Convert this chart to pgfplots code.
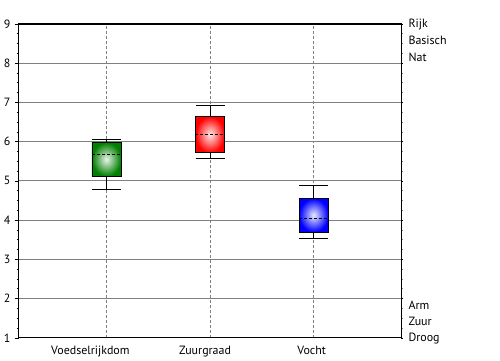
\documentclass[border=0pt]{standalone}
\usepackage{fontspec}
\setmainfont{PT Sans}
\usepackage{pgfplots}
\pgfplotsset{compat=1.18}
\usepgfplotslibrary{statistics}
\begin{document}
\fontsize{12}{14}\selectfont
\begin{tikzpicture}
\begin{axis}[
  scale only axis, width=384pt, height=315pt,
  xmin=0.154, xmax=3.846, ymin=1, ymax=9,
  boxplot/draw direction=y,
  xtick={1,2,3},
  xticklabels={\kern-16pt Voedselrijkdom\kern16pt, \kern-5pt Zuurgraad\kern5pt, \kern-2pt Vocht\kern2pt},
  ytick={1,2,3,4,5,6,7,8,9},
  ytick pos=left,
  minor y tick num=3,
  xmajorgrids, ymajorgrids,
  x grid style={gray, dash pattern=on 3pt off 2pt, line width=0.7pt},
  y grid style={gray, line width=0.8pt},
  axis line style={black, line width=1.3pt},
  tick align=outside,
  major tick length=4pt, minor tick length=1.5pt,
  xtick style={draw=none},
  ytick style={black, line width=0.6pt},
  tick label style={font=\fontsize{12}{14}\selectfont},
  /pgf/number format/assume math mode=true,
  clip=false,
]
\addplot[draw=black, line width=0.7pt,
  boxplot prepared={draw position=1, lower whisker=4.79, lower quartile=5.12, median=5.675, upper quartile=5.98, upper whisker=6.07, box extend=0.28, whisker extend=0.28},
  boxplot/every box/.style={shade, shading=radial, inner color=green!50!black!8!white, outer color=green!50!black},
  boxplot/every median/.style={dash pattern=on 3pt off 2pt}]
  coordinates {};
\addplot[draw=black, line width=0.7pt,
  boxplot prepared={draw position=2, lower whisker=5.57, lower quartile=5.72, median=6.18, upper quartile=6.64, upper whisker=6.92, box extend=0.28, whisker extend=0.28},
  boxplot/every box/.style={shade, shading=radial, inner color=red!8!white, outer color=red},
  boxplot/every median/.style={dash pattern=on 3pt off 2pt}]
  coordinates {};
\addplot[draw=black, line width=0.7pt,
  boxplot prepared={draw position=3, lower whisker=3.54, lower quartile=3.70, median=4.04, upper quartile=4.55, upper whisker=4.89, box extend=0.28, whisker extend=0.28},
  boxplot/every box/.style={shade, shading=radial, inner color=blue!8!white, outer color=blue},
  boxplot/every median/.style={dash pattern=on 3pt off 2pt}]
  coordinates {};
\node[anchor=base west, inner sep=0pt] at ([shift={(7pt,-3.5pt)}]rel axis cs:1,1) {Rijk};
\node[anchor=base west, inner sep=0pt] at ([shift={(7pt,-20.5pt)}]rel axis cs:1,1) {Basisch};
\node[anchor=base west, inner sep=0pt] at ([shift={(7pt,-37.5pt)}]rel axis cs:1,1) {Nat};
\node[anchor=base west, inner sep=0pt] at ([shift={(7pt,28pt)}]rel axis cs:1,0) {Arm};
\node[anchor=base west, inner sep=0pt] at ([shift={(7pt,12pt)}]rel axis cs:1,0) {Zuur};
\node[anchor=base west, inner sep=0pt] at ([shift={(7pt,-4pt)}]rel axis cs:1,0) {Droog};
\end{axis}
\begin{axis}[
  scale only axis, width=384pt, height=315pt,
  xmin=0.154, xmax=3.846, ymin=1, ymax=9,
  axis y line*=right, hide x axis,
  ytick={1,2,3,4,5,6,7,8,9}, yticklabels={},
  minor y tick num=3,
  axis line style={black, line width=1.3pt},
  tick align=outside,
  major tick length=1.5pt, minor tick length=1.2pt,
  ytick style={black, line width=0.6pt},
  minor y tick style={gray},
]
\end{axis}
\path ([shift={(-17pt,-21pt)}]current axis.south west) rectangle ([shift={(99pt,24pt)}]current axis.north east);
\end{tikzpicture}
\end{document}
